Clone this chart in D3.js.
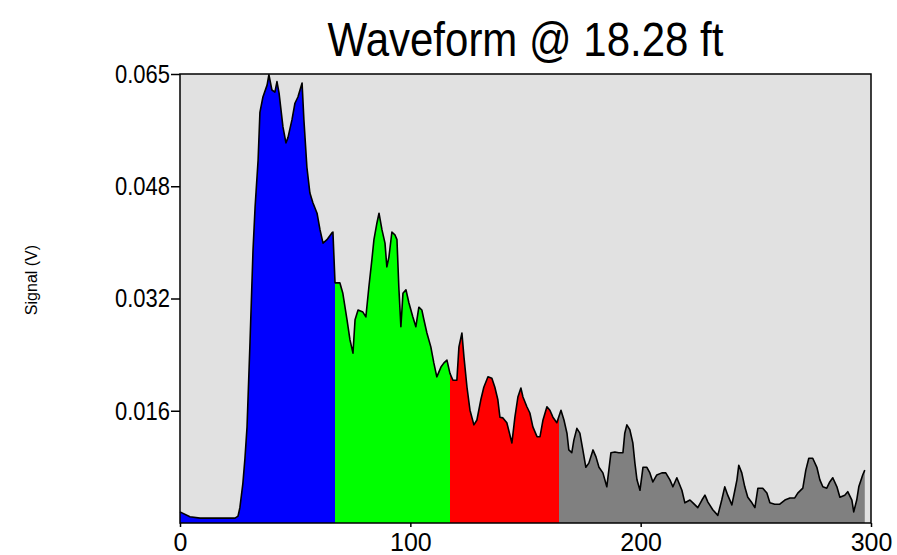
<!DOCTYPE html>
<meta charset="utf-8">
<head>
    <title>Waveform</title>
    <script src="https://d3js.org/d3.v7.min.js"></script>
    <style>
        body { margin: 0; background: #fff; }
        text { font-family: "Liberation Sans", Arial, sans-serif; fill: #000; }
    </style>
</head>
<body>
    <div id="chart"></div>
</body>
<script>

const width = 897;
const height = 555;
const margin = {top: 74, right: 26, bottom: 32, left: 180};

// sample positions (x units) and signal (V)
const sampleX = [0, 4.3, 8.7, 16, 23.9, 25.2, 26, 27.3, 28.2, 29.1, 30.4, 31.7, 32.6, 33.9, 34.7, 36, 37.8, 38.6, 39.9, 41.2,
    42.1, 43, 44.7, 46, 46.9, 48.6, 49.9, 51.2, 53, 53.8, 55.1, 56.4, 57.7, 59.5, 60.8, 62.1, 63.8, 66, 66.4, 67.3,
    69.4, 70.7, 72.5, 73.8, 75.1, 76, 77.3, 79.4, 80.7, 82, 83.3, 84.2, 85.5, 86.4, 87.7, 89, 89.8, 90.7, 92, 93.3,
    94.2, 95, 95.9, 96.8, 98.1, 99.4, 101.1, 102.4, 103.7, 105, 105.9, 107.2, 108.9, 110.2, 111.5, 113.3, 114.6, 115.9, 117.2, 118.5,
    120.2, 121.1, 122.4, 123.3, 124.6, 125.9, 127.6, 128.9, 130.6, 131.9, 133.7, 135.4, 136.7, 138, 138.9, 140.2, 141.9, 144.1, 145.4, 146.7,
    148, 148.9, 150.6, 151.9, 153.2, 155, 156.3, 157.6, 159.3, 160.6, 161.9, 163.6, 165.4, 166.7, 168, 168.8, 170.1, 171, 172.3, 173.6,
    174.9, 176.2, 177.5, 179.3, 180.6, 181.9, 183.6, 185.3, 187.1, 188.8, 190.5, 192.3, 193.1, 194, 195.3, 196.6, 197.5, 198.4, 199.7, 201,
    202.7, 204, 205.3, 207, 209.2, 210.9, 212.7, 214, 215.7, 217.9, 219.2, 221.4, 222.7, 224.8, 226.6, 227.9, 229.2, 231.3, 233.5, 235.2,
    236.5, 237.8, 239.6, 240.9, 241.8, 242.6, 243.9, 245.2, 246.5, 248.3, 249.6, 250.9, 253, 254.8, 256.1, 258.2, 260.4, 262.6, 264.8, 266.9,
    268.2, 270.4, 271.7, 273, 274.7, 276.5, 277.8, 279.1, 280.8, 282.1, 283.4, 285.2, 286.5, 288.6, 289.9, 291.7, 292.5, 293.8, 294.7, 296.4,
    297.3];

const signal = [0.0016, 0.0009, 0.0007, 0.0007, 0.0007, 0.0010, 0.0022, 0.0057, 0.0093, 0.0138, 0.0260, 0.0392, 0.0454, 0.0521, 0.0590, 0.0612, 0.0629, 0.0644, 0.0622, 0.0619,
    0.0634, 0.0618, 0.0569, 0.0546, 0.0554, 0.0579, 0.0603, 0.0612, 0.0632, 0.0579, 0.0511, 0.0474, 0.0460, 0.0445, 0.0421, 0.0402, 0.0407, 0.0417, 0.0418, 0.0345,
    0.0345, 0.0330, 0.0292, 0.0263, 0.0244, 0.0292, 0.0306, 0.0303, 0.0296, 0.0339, 0.0378, 0.0407, 0.0431, 0.0445, 0.0421, 0.0402, 0.0368, 0.0382, 0.0418, 0.0414,
    0.0407, 0.0339, 0.0282, 0.0330, 0.0335, 0.0316, 0.0296, 0.0282, 0.0310, 0.0306, 0.0292, 0.0273, 0.0253, 0.0230, 0.0210, 0.0224, 0.0230, 0.0234, 0.0215, 0.0205,
    0.0205, 0.0253, 0.0273, 0.0238, 0.0195, 0.0162, 0.0141, 0.0148, 0.0177, 0.0195, 0.0210, 0.0208, 0.0195, 0.0177, 0.0152, 0.0151, 0.0144, 0.0115, 0.0152, 0.0181,
    0.0194, 0.0181, 0.0167, 0.0158, 0.0138, 0.0124, 0.0124, 0.0148, 0.0167, 0.0162, 0.0152, 0.0144, 0.0162, 0.0148, 0.0129, 0.0105, 0.0101, 0.0119, 0.0136, 0.0129,
    0.0105, 0.0080, 0.0086, 0.0105, 0.0095, 0.0080, 0.0072, 0.0052, 0.0101, 0.0102, 0.0101, 0.0101, 0.0129, 0.0141, 0.0134, 0.0115, 0.0086, 0.0062, 0.0047, 0.0080,
    0.0080, 0.0072, 0.0059, 0.0069, 0.0072, 0.0072, 0.0062, 0.0052, 0.0065, 0.0047, 0.0029, 0.0033, 0.0029, 0.0022, 0.0033, 0.0040, 0.0030, 0.0019, 0.0011, 0.0033,
    0.0052, 0.0040, 0.0026, 0.0047, 0.0062, 0.0083, 0.0072, 0.0052, 0.0037, 0.0029, 0.0022, 0.0050, 0.0050, 0.0043, 0.0029, 0.0027, 0.0027, 0.0033, 0.0036, 0.0036,
    0.0043, 0.0050, 0.0076, 0.0093, 0.0093, 0.0080, 0.0062, 0.0052, 0.0050, 0.0059, 0.0065, 0.0052, 0.0037, 0.0040, 0.0045, 0.0033, 0.0016, 0.0033, 0.0052, 0.0069,
    0.0076];

// coloured gates along x
const bandEdges = [0, 67.3, 117.2, 164.5, 300];
const bandColors = ["#0000ff", "#00ff00", "#ff0000", "#808080"];

const xTicks = [0, 100, 200, 300];
const yMax = 0.0645;
const yTicks = [0.016125, 0.03225, 0.048375, 0.0645];
const yTickLabels = ["0.016", "0.032", "0.048", "0.065"];

const chartTitle = "Waveform @ 18.28 ft";
const yTitle = "Signal (V)";

const data = sampleX.map(function(x, i) { return {x: x, v: signal[i]}; });

const innerW = width - margin.left - margin.right;
const innerH = height - margin.top - margin.bottom;

const x = d3.scaleLinear().domain([0, 300]).range([0, innerW]);
const y = d3.scaleLinear().domain([0, yMax]).range([innerH, 0]);

const svg = d3.select("#chart")
              .append("svg")
                .attr("width", width)
                .attr("height", height);

const g = svg.append("g")
                .attr("transform", `translate(${margin.left},${margin.top})`);

g.append("rect")
    .attr("width", innerW)
    .attr("height", innerH)
    .attr("fill", "#e1e1e1");

const defs = svg.append("defs");
bandColors.forEach(function(c, i) {
    defs.append("clipPath")
            .attr("id", "band-" + i)
        .append("rect")
            .attr("x", x(bandEdges[i]))
            .attr("y", 0)
            .attr("width", x(bandEdges[i + 1]) - x(bandEdges[i]))
            .attr("height", innerH);
});

const area = d3.area()
                .x(function(d) { return x(d.x); })
                .y0(innerH)
                .y1(function(d) { return y(d.v); });

const line = d3.line()
                .x(function(d) { return x(d.x); })
                .y(function(d) { return y(d.v); });

bandColors.forEach(function(c, i) {
    g.append("path")
        .datum(data)
        .attr("clip-path", `url(#band-${i})`)
        .attr("fill", c)
        .attr("d", area);
});

g.append("path")
    .datum(data)
    .attr("fill", "none")
    .attr("stroke", "#000")
    .attr("stroke-width", 1.6)
    .attr("stroke-linejoin", "round")
    .attr("d", line);

// frame
g.append("rect")
    .attr("width", innerW)
    .attr("height", innerH)
    .attr("fill", "none")
    .attr("stroke", "#000")
    .attr("stroke-width", 1.5);

const yAxis = g.append("g")
    .call(d3.axisLeft(y)
            .tickValues(yTicks)
            .tickFormat(function(d, i) { return yTickLabels[i]; })
            .tickSize(9)
            .tickSizeOuter(0)
            .tickPadding(1));
yAxis.select(".domain").remove();
yAxis.selectAll("line").attr("stroke", "#000").attr("stroke-width", 1.5);
yAxis.selectAll("text")
    .style("font-size", "22px")
    .attr("transform", "scale(1,1.2)")
    .attr("fill", "#000");

const xAxis = g.append("g")
    .attr("transform", `translate(0,${innerH})`)
    .call(d3.axisBottom(x)
            .tickValues(xTicks)
            .tickSize(4)
            .tickSizeOuter(0)
            .tickPadding(6));
xAxis.select(".domain").remove();
xAxis.selectAll("line").attr("stroke", "#000").attr("stroke-width", 1.5);
xAxis.selectAll("text")
    .style("font-size", "25px")
    .attr("fill", "#000");

svg.append("text")
    .attr("transform", `translate(${margin.left + innerW / 2},56) scale(1,1.15)`)
    .attr("text-anchor", "middle")
    .style("font-size", "42px")
    .text(chartTitle);

svg.append("text")
    .attr("transform", "translate(37,280) rotate(-90)")
    .attr("text-anchor", "middle")
    .style("font-size", "16px")
    .text(yTitle);

</script>
